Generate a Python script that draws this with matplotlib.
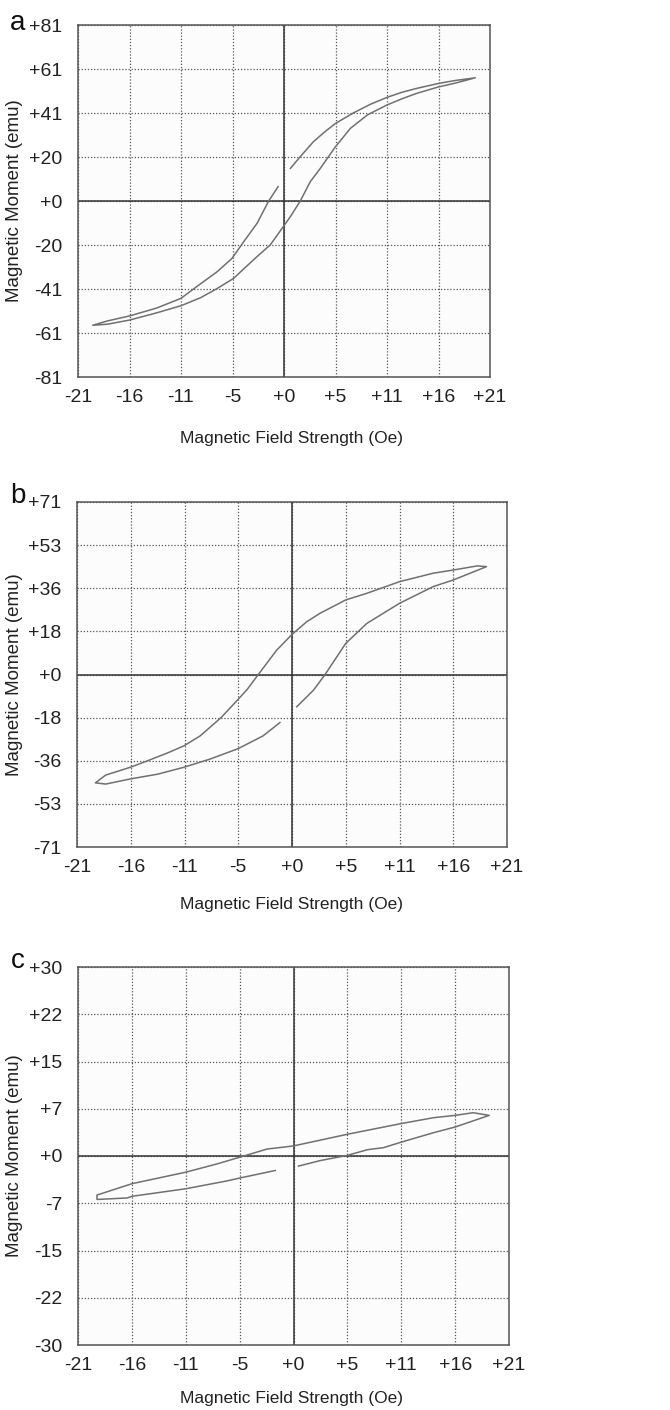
import numpy as np
import matplotlib.pyplot as plt

plt.rcParams['font.family'] = ['Liberation Sans', 'DejaVu Sans']

# field axis shared by all three panels
x_ticklabels = ['-21', '-16', '-11', '-5', '+0', '+5', '+11', '+16', '+21']

# panel a
a_x = [0.65, 1.66, 3.0, 4.2, 5.25, 7.1, 8.8, 10.5, 12.0, 13.5, 15.75, 17.5, 19.5,
       17.5, 15.75, 13.5, 12.0, 10.5, 8.5, 6.76, 5.25, 3.7, 2.68, 1.66, 0.65, -0.2,
       -1.4, -2.75, -4.0, -5.13, -6.9, -8.5, -10.5, -13.0, -15.75, -18.0, -19.5,
       -18.0, -15.75, -13.0, -10.5, -8.9, -6.8, -5.3, -4.1, -2.75, -1.56, -0.6]
a_y = [15, 20.4, 27.3, 32, 35.7, 40.6, 44.5, 47.7, 50, 51.8, 54.1, 55.5, 56.7,
       54.3, 52.5, 49.5, 47, 44.2, 39.6, 33.4, 25, 15, 8.9, 0, -7.2, -12.6,
       -20.2, -25.6, -30.8, -35.6, -40.5, -44.5, -48.2, -51.5, -54.8, -56.7, -57.2,
       -55.2, -52.9, -49.3, -44.8, -39.4, -32.5, -26.4, -18.7, -10.3, 0, 6.6]
a_lim = 81
a_ticklabels = ['-81', '-61', '-41', '-20', '+0', '+20', '+41', '+61', '+81']

# panel b
b_x = [-1.18, -2.84, -5.25, -8.0, -10.57, -13.1, -15.8, -18.2, -19.2,
       -18.2, -15.8, -14.1, -12.05, -10.57, -8.98, -6.93, -5.3, -4.37, -3.29, -1.5,
       0.0, 1.43, 2.74, 5.25, 7.3, 10.5, 13.8, 15.75, 18.1, 19.0,
       15.75, 13.8, 10.5, 7.3, 5.25, 3.23, 2.09, 0.46]
b_y = [-19.8, -25.3, -30.5, -34.8, -38.2, -41.0, -43.0, -45.1, -44.6,
       -41.4, -38.2, -35.5, -32.1, -29.4, -25.3, -17.75, -10.4, -6.1, 0, 10,
       16.5, 21.7, 25.2, 30.7, 33.4, 38.2, 41.7, 43, 44.7, 44.4,
       38.9, 36.2, 29.3, 21, 12.8, 0, -6.5, -13.3]
b_lim = 71
b_ticklabels = ['-71', '-53', '-36', '-18', '+0', '+18', '+36', '+53', '+71']

# panel c
c_x = [-1.78, -5.25, -6.53, -10.5, -15.75, -16.2, -19.15,
       -19.15, -15.75, -10.5, -7.46, -5.25, -2.59, 0.0, 5.25, 10.5, 13.65, 15.75, 17.5, 19.07,
       15.75, 13.65, 10.5, 8.76, 7.2, 5.25, 2.6, 0.49]
c_y = [-2.3, -3.5, -3.97, -5.2, -6.4, -6.66, -6.9,
       -6.2, -4.4, -2.57, -1.26, -0.2, 1.1, 1.6, 3.45, 5.15, 6.08, 6.45, 6.87, 6.45,
       4.6, 3.7, 2.2, 1.32, 1.0, 0.1, -0.73, -1.6]
c_lim = 30
c_ticklabels = ['-30', '-22', '-15', '-7', '+0', '+7', '+15', '+22', '+30']

W, H = 670, 1410
fig = plt.figure(figsize=(W / 100, H / 100), dpi=100)

panels = [
    ('a', a_x, a_y, a_lim, a_ticklabels, (78, 25, 490, 377), 30, 438),
    ('b', b_x, b_y, b_lim, b_ticklabels, (77, 502, 507, 847), 503, 905),
    ('c', c_x, c_y, c_lim, c_ticklabels, (78, 967, 509, 1345), 968, 1399),
]

for name, xs, ys, lim, ylabels, box, letter_y, xlabel_y in panels:
    l, t, r, b = box
    ax = fig.add_axes([l / W, 1 - b / H, (r - l) / W, (b - t) / H])
    ax.set_facecolor('#fcfcfc')
    ax.set_xlim(-21, 21)
    ax.set_ylim(-lim, lim)
    ax.set_xticks(np.linspace(-21, 21, 9))
    ax.set_xticklabels(x_ticklabels)
    ax.set_yticks(np.linspace(-lim, lim, 9))
    ax.set_yticklabels(ylabels)
    ax.tick_params(length=0, labelsize=14, colors='#222222')
    ax.tick_params(axis='x', pad=9)
    ax.tick_params(axis='y', pad=11)
    ax.grid(True, linestyle=(0, (1, 1.5)), color='#555555', linewidth=0.9)
    ax.axhline(0, color='#333333', linewidth=1.1)
    ax.axvline(0, color='#333333', linewidth=1.1)
    for s in ax.spines.values():
        s.set_color('#555555')
        s.set_linewidth(1.1)
    ax.plot(xs, ys, color='#707070', linewidth=1.1)

    fig.text(18 / W, 1 - letter_y / H, name, fontsize=20,
             ha='center', va='baseline', color='#111111')
    fig.text(15 / W, 1 - (t + b) / 2 / H, 'Magnetic Moment (emu)', rotation=90,
             fontsize=13.5, ha='center', va='center', color='#222222')
    fig.text(291 / W, 1 - xlabel_y / H, 'Magnetic Field Strength (Oe)',
             fontsize=12.5, ha='center', va='center', color='#222222')

fig.savefig('out.png', dpi=100)
